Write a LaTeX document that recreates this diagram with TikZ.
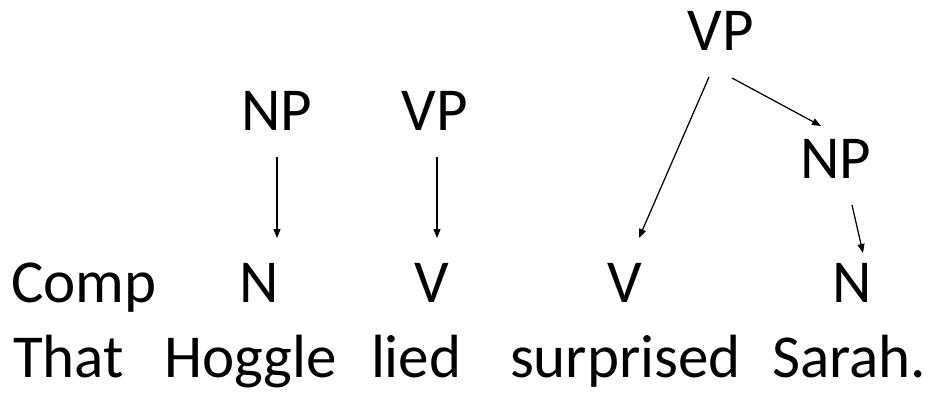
\documentclass[tikz,border=0pt]{standalone}
\usepackage{fontspec}
\setmainfont{Carlito}
\usetikzlibrary{arrows.meta}
\begin{document}
\begin{tikzpicture}[x=1pt,y=-1pt,
  lab/.style={inner sep=0pt,outer sep=0pt,font=\fontsize{61}{72}\selectfont,anchor=base},
  word/.style={lab,anchor=base west},
  arr/.style={line width=1.25pt,-{Triangle[length=9pt,width=7pt]}}]
\useasboundingbox (0,0) rectangle (945,397);
% categories
\node[lab] (vptop) at (721,50) {VP};
\node[lab] (npr) at (836,178) {NP};
\node[lab] (np1) at (277,130) {NP};
\node[lab] (vp1) at (435,130) {VP};
\node[lab] (comp) at (84,302) {Comp};
\node[lab] (n1) at (259,302) {N};
\node[lab] (v1) at (432,302) {V};
\node[lab] (v2) at (625,302) {V};
\node[lab] (n2) at (852,302) {N};
% words
\node[word] (w1) at (13,377) {That};
\node[word] (w2) at (164,377) {Hoggle};
\node[word] (w3) at (371,377) {lied};
\node[word] (w4) at (510,377) {surprised};
\node[word] (w5) at (772,377) {Sarah.};
% arrow end points
\coordinate (a1s) at (277,157); \coordinate (a1e) at (277,238);
\coordinate (a2s) at (437,157); \coordinate (a2e) at (437,238);
\coordinate (a3s) at (709,77);  \coordinate (a3e) at (639,238);
\coordinate (a4s) at (732,78);  \coordinate (a4e) at (821,126);
\coordinate (a5s) at (852,205); \coordinate (a5e) at (863,253);
\draw[arr] (a1s) -- (a1e);
\draw[arr] (a2s) -- (a2e);
\draw[arr] (a3s) -- (a3e);
\draw[arr] (a4s) -- (a4e);
\draw[arr] (a5s) -- (a5e);
\end{tikzpicture}
\end{document}
